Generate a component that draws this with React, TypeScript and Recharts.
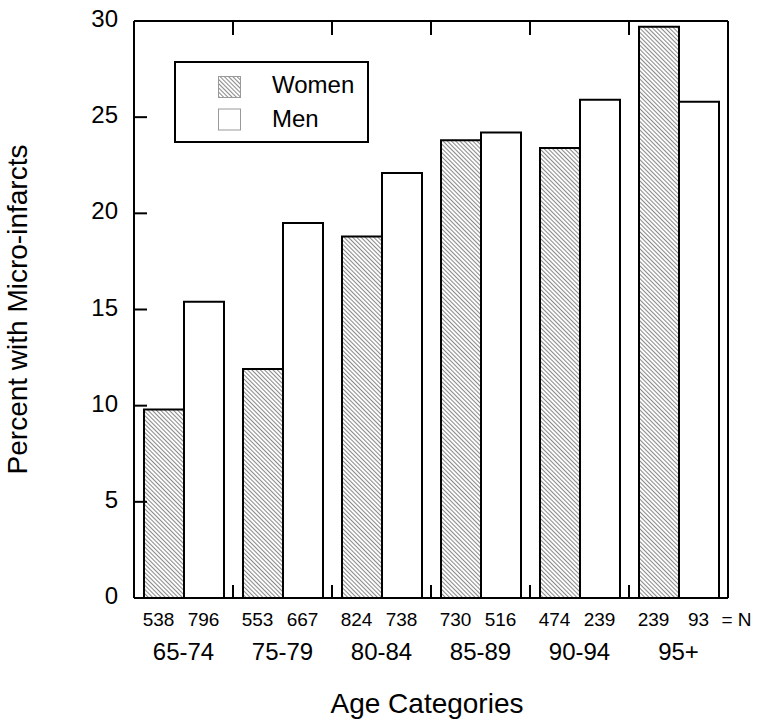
import { BarChart, Bar, XAxis, YAxis, Legend } from 'recharts';

const AGES = ['65-74', '75-79', '80-84', '85-89', '90-94', '95+'];
const WOMEN = [9.8, 11.9, 18.8, 23.8, 23.4, 29.7];
const MEN = [15.4, 19.5, 22.1, 24.2, 25.9, 25.8];
const WOMEN_N = [538, 553, 824, 730, 474, 239];
const MEN_N = [796, 667, 738, 516, 239, 93];
const Y_TICKS = [0, 5, 10, 15, 20, 25, 30];
const SERIES_ORDER = ['Women', 'Men'];

const data = AGES.map((age, i) => ({ age, women: WOMEN[i], men: MEN[i] }));

const FONT = '"Liberation Sans", Arial, sans-serif';
const line = { stroke: '#000', strokeWidth: 2 };

// plot area width, used to put the inward tick marks on category boundaries
const PLOT_W = 760 - 134 - 32;
const HALF_BAND = PLOT_W / AGES.length / 2;

function HatchDef({ id }: { id: string }) {
  return (
    <pattern id={id} patternUnits="userSpaceOnUse" width={3} height={3} patternTransform="rotate(-45)">
      <rect width={3} height={3} fill="#fff" />
      <line x1={0.5} y1={0} x2={0.5} y2={3} stroke="#8a8a8a" strokeWidth={1.1} />
    </pattern>
  );
}

function BottomTick({ x, y, payload }: any) {
  const i = AGES.indexOf(payload.value);
  return (
    <g>
      {i > 0 && <path d={`M${x - HALF_BAND},${y}V${y - 13}`} {...line} />}
      <text x={x - 25} y={y + 28} textAnchor="middle" fontSize={19} fill="#000">{WOMEN_N[i]}</text>
      <text x={x + 20} y={y + 28} textAnchor="middle" fontSize={19} fill="#000">{MEN_N[i]}</text>
      {i === AGES.length - 1 && (
        <text x={x + 43} y={y + 28} textAnchor="start" fontSize={19} fill="#000">= N</text>
      )}
      <text x={x} y={y + 62} textAnchor="middle" fontSize={24} fill="#000">{AGES[i]}</text>
    </g>
  );
}

function TopTick({ x, y, payload }: any) {
  const i = AGES.indexOf(payload.value);
  if (i <= 0) return <g />;
  return <path d={`M${x - HALF_BAND},${y}V${y + 14}`} {...line} />;
}

function LeftTick({ x, y, payload }: any) {
  return (
    <g>
      <path d={`M${x},${y}H${x + 13}`} {...line} />
      <text x={x - 16} y={y} dy={6} textAnchor="end" fontSize={24} fill="#000">{payload.value}</text>
    </g>
  );
}

function renderLegend(props: any) {
  const items = [...(props.payload || [])].sort(
    (a: any, b: any) => SERIES_ORDER.indexOf(a.value) - SERIES_ORDER.indexOf(b.value)
  );
  return (
    <svg width={195} height={82} style={{ display: 'block' }}>
      <defs>
        <HatchDef id="hatchLegend" />
      </defs>
      <rect x={1} y={1} width={193} height={80} fill="#fff" {...line} />
      {items.map((entry: any, i: number) => (
        <g key={entry.value}>
          <rect
            x={44.5}
            y={15.5 + i * 32.5}
            width={22}
            height={21}
            fill={String(entry.color).startsWith('url') ? 'url(#hatchLegend)' : '#fff'}
            stroke="#999"
            strokeWidth={1}
          />
          <text x={98} y={32 + i * 34} fontSize={24} fill="#000">{entry.value}</text>
        </g>
      ))}
    </svg>
  );
}

export default function App() {
  return (
    <div style={{ position: 'absolute', left: 0, top: 0, width: 760, height: 725, background: '#fff', fontFamily: FONT }}>
      <BarChart
        width={760}
        height={725}
        data={data}
        margin={{ top: 20, right: 31, bottom: 0, left: 0 }}
        barCategoryGap={10}
        barGap={0}
      >
        <defs>
          <HatchDef id="hatch" />
        </defs>
        <XAxis
          xAxisId="cat"
          dataKey="age"
          interval={0}
          height={127}
          tickSize={0}
          tickMargin={0}
          tickLine={false}
          axisLine={line}
          tick={<BottomTick />}
          label={{ value: 'Age Categories', position: 'insideBottom', offset: 12, dx: -4, style: { fontSize: 28, fill: '#000' } }}
        />
        <XAxis
          xAxisId="top"
          dataKey="age"
          orientation="top"
          interval={0}
          height={1}
          tickSize={0}
          tickMargin={0}
          tickLine={false}
          axisLine={line}
          tick={<TopTick />}
        />
        <YAxis
          domain={[0, 30]}
          ticks={Y_TICKS}
          interval={0}
          width={134}
          tickSize={0}
          tickMargin={0}
          tickLine={false}
          axisLine={line}
          tick={<LeftTick />}
          label={{ value: 'Percent with Micro-infarcts', angle: -90, position: 'insideLeft', offset: 17, style: { textAnchor: 'middle', fontSize: 28, fill: '#000' } }}
        />
        <YAxis yAxisId="right" orientation="right" domain={[0, 30]} width={1} tick={false} tickLine={false} axisLine={line} />
        <Legend
          layout="vertical"
          align="center"
          verticalAlign="middle"
          wrapperStyle={{ left: 174, top: 61, width: 195, height: 82 }}
          content={renderLegend}
        />
        <Bar xAxisId="cat" dataKey="women" name="Women" fill="url(#hatch)" stroke="#000" strokeWidth={2} isAnimationActive={false} />
        <Bar xAxisId="cat" dataKey="men" name="Men" fill="#fff" stroke="#000" strokeWidth={2} isAnimationActive={false} />
      </BarChart>
    </div>
  );
}
